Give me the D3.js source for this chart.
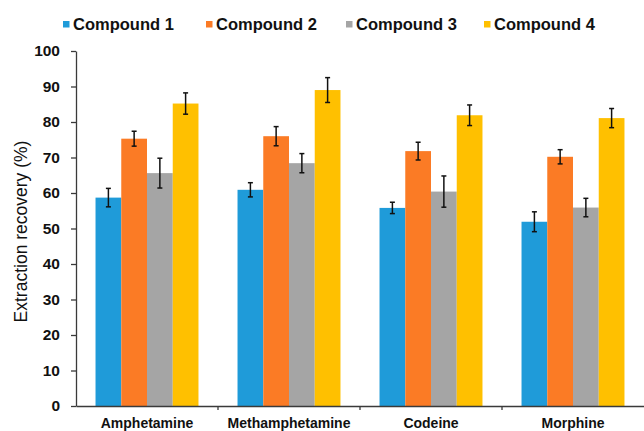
<!DOCTYPE html>
<html>
<head>
<meta charset="utf-8">
<script src="https://cdn.jsdelivr.net/npm/d3@7"></script>
<style>
  body { margin: 0; background: #fff; }
  svg { font-family: "Liberation Sans", Arial, sans-serif; }
</style>
</head>
<body>
<div id="chart"></div>
<script>
// data
const drugs = ["Amphetamine", "Methamphetamine", "Codeine", "Morphine"];
const compounds = ["Compound 1", "Compound 2", "Compound 3", "Compound 4"];
const compound1 = [58.7, 60.9, 55.8, 51.9];
const compound2 = [75.3, 76.0, 71.8, 70.2];
const compound3 = [65.6, 68.4, 60.4, 55.9];
const compound4 = [85.2, 89.0, 81.9, 81.1];
const err1 = [2.6, 2.0, 1.6, 2.8];
const err2 = [2.1, 2.7, 2.5, 2.0];
const err3 = [4.2, 2.7, 4.4, 2.6];
const err4 = [3.0, 3.5, 2.9, 2.7];
const yTicks = [0, 10, 20, 30, 40, 50, 60, 70, 80, 90, 100];
const colors = ["#1f9bd9", "#fb7b25", "#a5a5a5", "#ffc000"];

const width = 644;
const height = 431;
const margin = { top: 51, right: 0, bottom: 25, left: 76 };

const values = [compound1, compound2, compound3, compound4];
const errors = [err1, err2, err3, err4];
const rows = [];
drugs.forEach((d, i) => {
    compounds.forEach((c, j) => {
        rows.push({ drug: d, compound: c, k: j, value: values[j][i], err: errors[j][i] });
    });
});

const svg = d3.select("#chart")
    .append("svg")
    .attr("width", width)
    .attr("height", height);

const x0 = d3.scaleBand()
    .domain(drugs)
    .range([margin.left, width - margin.right])
    .paddingInner(0.275)
    .paddingOuter(0.1375);

const x1 = d3.scaleBand()
    .domain(compounds)
    .range([0, x0.bandwidth()]);

const y = d3.scaleLinear()
    .domain([0, 100])
    .range([height - margin.bottom, margin.top]);

const axisColor = "#3a3a3a";

// bars
svg.append("g")
    .selectAll("rect")
    .data(rows)
    .join("rect")
    .attr("x", d => x0(d.drug) + x1(d.compound))
    .attr("y", d => y(d.value))
    .attr("width", x1.bandwidth())
    .attr("height", d => y(0) - y(d.value))
    .attr("fill", d => colors[d.k]);

// error bars
const eb = svg.append("g")
    .attr("stroke", "#111")
    .attr("stroke-width", 1.5)
    .selectAll("g")
    .data(rows)
    .join("g")
    .attr("transform", d => `translate(${x0(d.drug) + x1(d.compound) + x1.bandwidth() / 2},0)`);
eb.append("line")
    .attr("y1", d => y(d.value - d.err))
    .attr("y2", d => y(d.value + d.err));
eb.append("line")
    .attr("x1", -2.5).attr("x2", 2.5)
    .attr("y1", d => y(d.value + d.err))
    .attr("y2", d => y(d.value + d.err));
eb.append("line")
    .attr("x1", -2.5).attr("x2", 2.5)
    .attr("y1", d => y(d.value - d.err))
    .attr("y2", d => y(d.value - d.err));

// y axis
const yAxis = svg.append("g")
    .attr("transform", `translate(${margin.left},0)`)
    .call(d3.axisLeft(y).tickValues(yTicks).tickSize(5).tickSizeOuter(0).tickPadding(11));
yAxis.selectAll("path, line").attr("stroke", axisColor).attr("stroke-width", 1.3);
yAxis.selectAll("text")
    .attr("fill", "#111")
    .attr("font-size", "15.5px")
    .attr("font-weight", "bold");

// x axis: labels centred in groups, small ticks between groups
const xAxis = svg.append("g")
    .attr("transform", `translate(0,${y(0)})`)
    .call(d3.axisBottom(x0).tickSize(0).tickSizeOuter(0).tickPadding(12));
xAxis.select(".domain").attr("stroke", axisColor).attr("stroke-width", 1.3);
xAxis.selectAll("text")
    .attr("fill", "#111")
    .attr("font-size", "14px")
    .attr("font-weight", "bold");
const halfGap = x0.step() * x0.paddingInner() / 2;
xAxis.selectAll(".sep")
    .data(drugs.slice(0, -1))
    .join("line")
    .attr("class", "sep")
    .attr("x1", d => x0(d) + x0.bandwidth() + halfGap)
    .attr("x2", d => x0(d) + x0.bandwidth() + halfGap)
    .attr("y1", 0)
    .attr("y2", 4)
    .attr("stroke", axisColor)
    .attr("stroke-width", 1.3);

// y title
svg.append("text")
    .attr("transform", `translate(27,${(y(0) + y(100)) / 2 + 3}) rotate(-90)`)
    .attr("text-anchor", "middle")
    .attr("font-size", "17.5px")
    .attr("fill", "#111")
    .text("Extraction recovery (%)");

// legend
const legendX = [73, 216, 356, 494];
const legend = svg.append("g")
    .selectAll("g")
    .data(compounds)
    .join("g")
    .attr("transform", (d, i) => `translate(${legendX[i]},30)`);
legend.append("rect")
    .attr("x", -10)
    .attr("y", -9)
    .attr("width", 6.5)
    .attr("height", 6.5)
    .attr("fill", (d, i) => colors[i]);
legend.append("text")
    .attr("font-size", "16.5px")
    .attr("font-weight", "bold")
    .attr("fill", "#111")
    .text(d => d);
</script>
</body>
</html>
